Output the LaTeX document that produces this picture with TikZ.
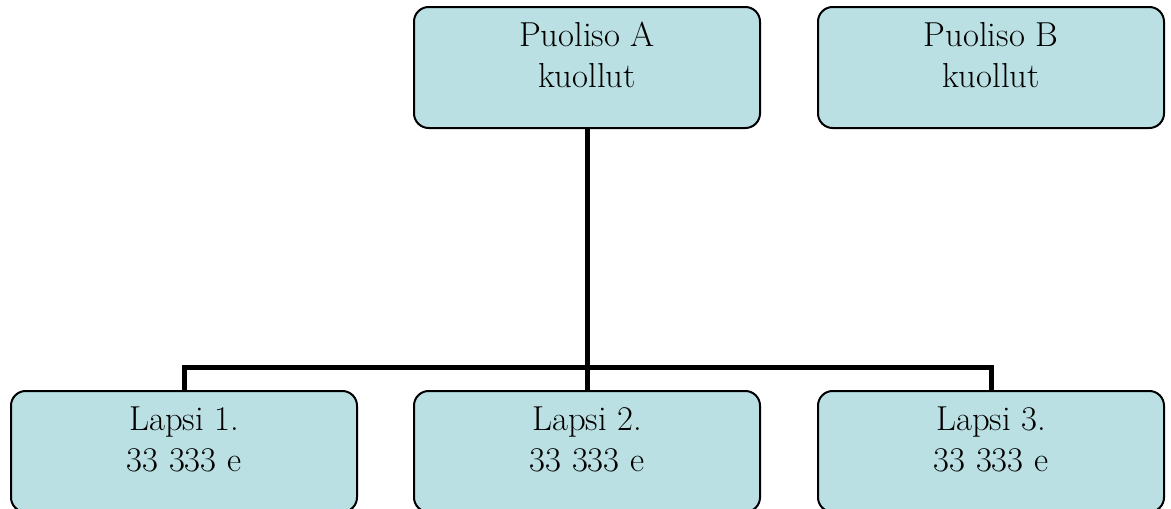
\documentclass[tikz,border=0pt]{standalone}
\usepackage{tikz}
\definecolor{boxfill}{RGB}{187,224,227}
\tikzset{
	famBox/.style={draw, line width=1.5pt, fill=boxfill, rounded corners=11pt,
		minimum width=259.5pt, minimum height=90.75pt, align=center,
		font=\fontsize{26}{30.75}\selectfont, text depth=19pt},
	famLine/.style={line width=3.75pt, line join=miter}
}
\begin{document}
\begin{tikzpicture}[x=0.75pt,y=-0.75pt]
	\useasboundingbox (0,0) rectangle (1171,508);
	\clip (0,0) rectangle (1171,508);
	\node[famBox] (pa) at (587,67.5) {Puoliso A\\kuollut};
	\node[famBox] (pb) at (991,67.5) {Puoliso B\\kuollut};
	\node[famBox] (l1) at (184,451.5) {Lapsi 1.\\33 333 e};
	\node[famBox] (l2) at (587,451.5) {Lapsi 2.\\33 333 e};
	\node[famBox] (l3) at (991,451.5) {Lapsi 3.\\33 333 e};
	\coordinate (bus) at (587,367);
	\draw [famLine] (pa.south) -- (bus);
	\draw [famLine] (l1.north) -- (l1.north |- bus) -- (l3.north |- bus) -- (l3.north);
	\draw [famLine] (bus) -- (l2.north);
\end{tikzpicture}
\end{document}
